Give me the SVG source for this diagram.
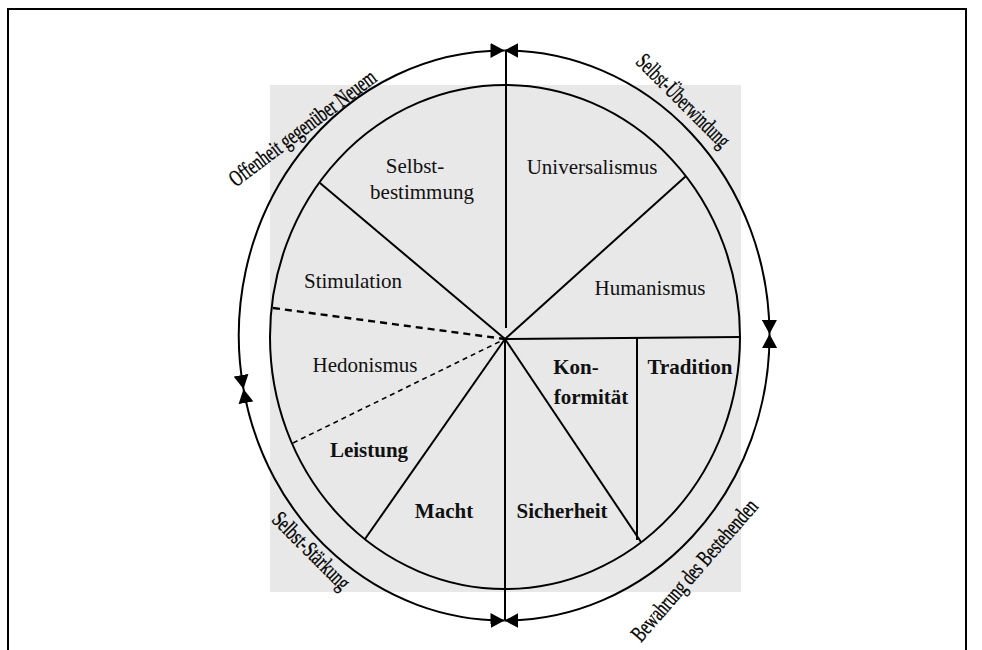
<svg xmlns="http://www.w3.org/2000/svg" width="982" height="650" viewBox="0 0 982 650">
  <style>
    .frame { fill: none; stroke: #000; stroke-width: 2; }
    .line { fill: none; stroke: #000; stroke-width: 2; }
    .arc { fill: none; stroke: #000; stroke-width: 2; marker-start: url(#tip); marker-end: url(#tip); }
    .dash1 { fill: none; stroke: #000; stroke-width: 2.4; stroke-dasharray: 7 5; }
    .dash2 { fill: none; stroke: #000; stroke-width: 1.6; stroke-dasharray: 5 4; }
    .lbl { font-family: "Liberation Serif", "Times New Roman", serif; font-size: 21px; fill: #111; text-anchor: middle; }
    .bold { font-weight: bold; }
    .ring { font-family: "Liberation Serif", "Times New Roman", serif; font-size: 23px; fill: #000; stroke: #000; stroke-width: 0.35; text-anchor: middle; }
  </style>
  <defs>
    <marker id="tip" markerUnits="userSpaceOnUse" markerWidth="15" markerHeight="15" refX="14" refY="7.5" orient="auto-start-reverse">
      <path d="M0,0 L14,7.5 L0,15 Z" fill="#000"/>
    </marker>
  </defs>

  <rect width="982" height="650" fill="#fff"/>
  <!-- page frame -->
  <path class="frame" d="M8,650 V9 H966 V650"/>

  <!-- shaded backdrop -->
  <rect x="270" y="85" width="471" height="507" fill="#e8e8e8"/>

  <!-- value circle -->
  <g id="circle">
    <ellipse cx="505" cy="337" rx="235" ry="252" class="line"/>
  </g>

  <g id="connectors">
    <!-- outer ring, four arrowed arcs -->
    <path class="arc" d="M243.5,389 A265,285 0 0 1 504.5,50.5"/>
    <path class="arc" d="M504.5,50.5 A265,285 0 0 1 769.5,334"/>
    <path class="arc" d="M769.5,334 A265,285 0 0 1 504.5,620.5"/>
    <path class="arc" d="M504.5,620.5 A265,285 0 0 1 243.5,389"/>
    <!-- dividing axis -->
    <line class="line" x1="506" y1="51" x2="506" y2="328"/>
    <line class="line" x1="505" y1="339" x2="505" y2="620"/>
    <!-- sector borders -->
    <line class="line" x1="505" y1="339" x2="686" y2="176"/>
    <line class="line" x1="505" y1="339" x2="320" y2="183"/>
    <line class="line" x1="503" y1="339" x2="740" y2="337"/>
    <line class="line" x1="505" y1="339" x2="365" y2="539"/>
    <line class="line" x1="505" y1="339" x2="641" y2="542"/>
    <line class="line" x1="637" y1="338" x2="637" y2="540"/>
    <line class="dash1" x1="273" y1="308" x2="505" y2="339"/>
    <line class="dash2" x1="293" y1="443" x2="505" y2="339"/>
  </g>

  <g id="selbstbestimmung">
    <text class="lbl" x="415" y="173">Selbst-</text>
    <text class="lbl" x="422" y="199">bestimmung</text>
  </g>
  <g id="universalismus"><text class="lbl" x="592" y="174">Universalismus</text></g>
  <g id="stimulation"><text class="lbl" x="353" y="288">Stimulation</text></g>
  <g id="humanismus"><text class="lbl" x="650" y="295">Humanismus</text></g>
  <g id="hedonismus"><text class="lbl" x="365" y="372">Hedonismus</text></g>
  <g id="leistung"><text class="lbl bold" x="369" y="457">Leistung</text></g>
  <g id="macht"><text class="lbl bold" x="444" y="518">Macht</text></g>
  <g id="sicherheit"><text class="lbl bold" x="562" y="518">Sicherheit</text></g>
  <g id="konformitaet">
    <text class="lbl bold" x="576" y="374">Kon-</text>
    <text class="lbl bold" x="591" y="404">formität</text>
  </g>
  <g id="tradition"><text class="lbl bold" x="690" y="374">Tradition</text></g>

  <!-- ring captions -->
  <g id="offenheit"><text class="ring" transform="translate(307,134) rotate(-37)" textLength="178" lengthAdjust="spacingAndGlyphs">Offenheit gegenüber Neuem</text></g>
  <g id="selbst-ueberwindung"><text class="ring" transform="translate(678,106) rotate(45)" textLength="122" lengthAdjust="spacingAndGlyphs">Selbst-Überwindung</text></g>
  <g id="selbst-staerkung"><text class="ring" transform="translate(306,556) rotate(45)" textLength="100" lengthAdjust="spacingAndGlyphs">Selbst-Stärkung</text></g>
  <g id="bewahrung"><text class="ring" transform="translate(700,575) rotate(-49)" textLength="180" lengthAdjust="spacingAndGlyphs">Bewahrung des Bestehenden</text></g>
</svg>
